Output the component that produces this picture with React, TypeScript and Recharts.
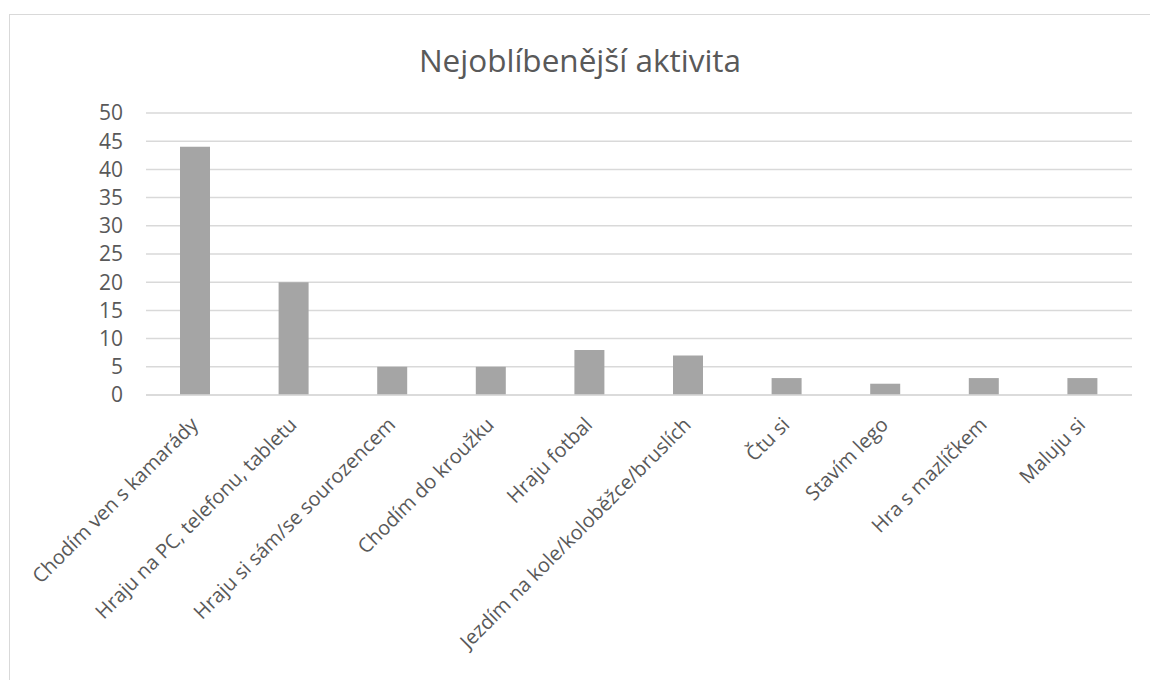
import React from "react";
import { BarChart, Bar, XAxis, YAxis, CartesianGrid } from "recharts";

const categories = [
  "Chodím ven s kamarády",
  "Hraju na PC, telefonu, tabletu",
  "Hraju si sám/se sourozencem",
  "Chodím do kroužku",
  "Hraju fotbal",
  "Jezdím na kole/koloběžce/bruslích",
  "Čtu si",
  "Stavím lego",
  "Hra s mazlíčkem",
  "Maluju si",
];
const values = [44, 20, 5, 5, 8, 7, 3, 2, 3, 3];
const yTicks = [0, 5, 10, 15, 20, 25, 30, 35, 40, 45, 50];
const title = "Nejoblíbenější aktivita";

const data = categories.map((c, i) => ({ name: c, value: values[i] }));

const FONT = "'Open Sans', 'Liberation Sans', sans-serif";
const TEXT = "#595959";

const XTick = (props: any) => {
  const { x, y, payload } = props;
  const ax = x + 4;
  const ay = y + 23;
  return (
    <text
      x={ax}
      y={ay}
      transform={`rotate(-45 ${ax} ${ay})`}
      textAnchor="end"
      fill={TEXT}
      fontSize={20}
      fontFamily={FONT}
    >
      {payload.value}
    </text>
  );
};

export default function App() {
  return (
    <div style={{ position: "absolute", left: 0, top: 0, width: 1150, height: 680, overflow: "hidden", background: "#fff" }}>
      <div
        style={{
          position: "absolute",
          left: 9,
          top: 14,
          width: 1200,
          height: 700,
          border: "1.5px solid #d9d9d9",
          boxSizing: "border-box",
        }}
      />
      <div
        style={{
          position: "absolute",
          left: 0,
          top: 36,
          width: 1160,
          textAlign: "center",
          fontFamily: FONT,
          fontSize: 31.5,
          color: TEXT,
          lineHeight: "48px",
        }}
      >
        {title}
      </div>
      <div style={{ position: "absolute", left: 0, top: 0 }}>
        <BarChart
          width={1150}
          height={680}
          data={data}
          margin={{ top: 113, right: 18, bottom: 0, left: 86 }}
          barSize={30}
        >
          <CartesianGrid vertical={false} stroke="#d9d9d9" strokeWidth={1.5} />
          <XAxis
            dataKey="name"
            interval={0}
            height={285}
            tickLine={false}
            axisLine={{ stroke: "#d9d9d9", strokeWidth: 1.5 }}
            tick={<XTick />}
          />
          <YAxis
            domain={[0, 50]}
            ticks={yTicks}
            interval={0}
            width={60}
            tickLine={false}
            axisLine={false}
            tickSize={0}
            tickMargin={23}
            tick={{ fill: TEXT, fontSize: 21, fontFamily: FONT }}
          />
          <Bar dataKey="value" fill="#a5a5a5" isAnimationActive={false} />
        </BarChart>
      </div>
    </div>
  );
}
